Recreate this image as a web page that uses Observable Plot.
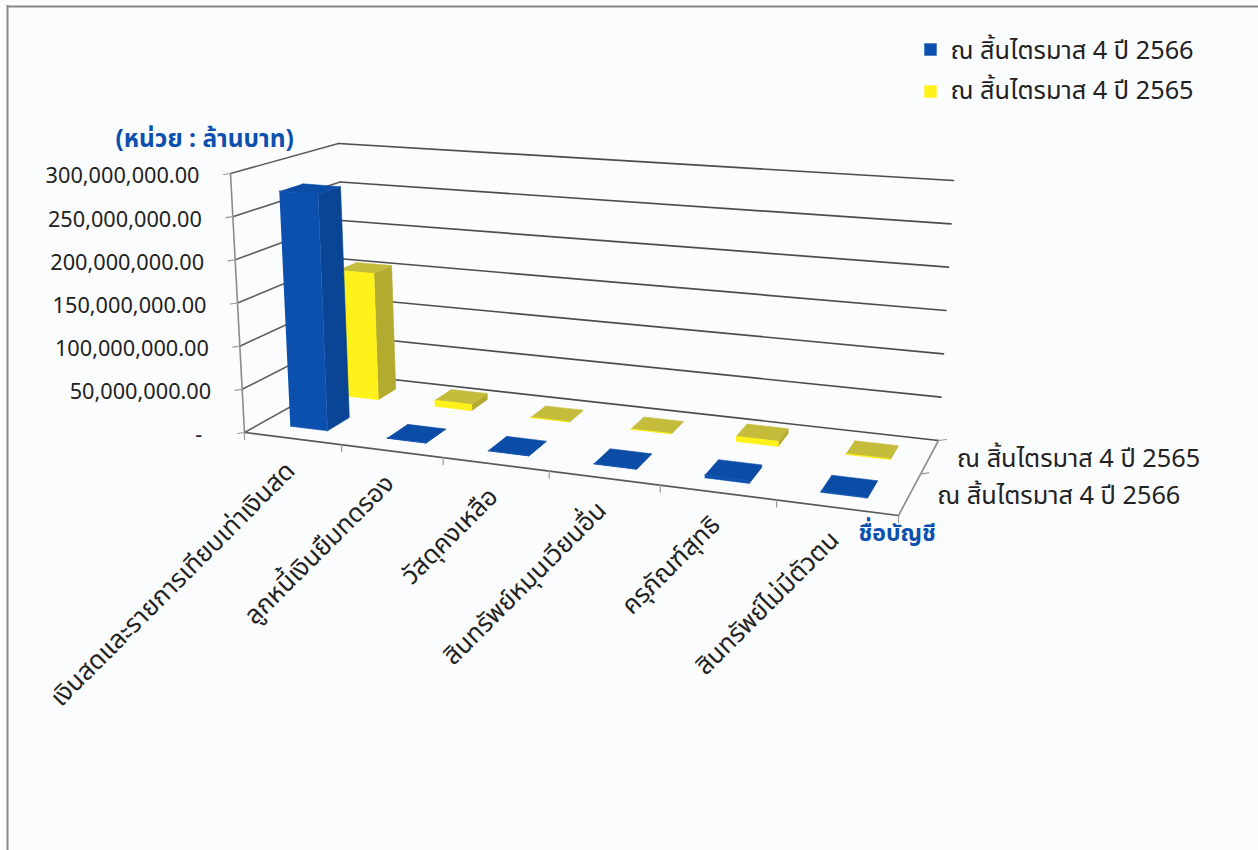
<!DOCTYPE html>
<html lang="th">
<head>
<meta charset="utf-8">
<style>
html,body{margin:0;padding:0;background:#fbfcfe;overflow:hidden}
svg{display:block;background:#fbfcfe}
</style>
<script src="https://cdn.jsdelivr.net/npm/d3@7"></script>
<script src="https://cdn.jsdelivr.net/npm/@observablehq/plot@0.6"></script>
</head>
<body>
<div id="chart"></div>
<script>
// ---- data ----
const categories = ["เงินสดและรายการเทียบเท่าเงินสด","ลูกหนี้เงินยืมทดรอง","วัสดุคงเหลือ","สินทรัพย์หมุนเวียนอื่น","ครุภัณฑ์สุทธิ","สินทรัพย์ไม่มีตัวตน"];
const seriesNames = ["ณ สิ้นไตรมาส 4 ปี 2566","ณ สิ้นไตรมาส 4 ปี 2565"];
const values2566 = [276000000,300000,300000,500000,3000000,1000000];
const values2565 = [156000000,7500000,300000,500000,6000000,800000];
const valueTicks = [0,50000000,100000000,150000000,200000000,250000000,300000000];
const tickLabels = ["-\u00a0\u00a0","50,000,000.00","100,000,000.00","150,000,000.00","200,000,000.00","250,000,000.00","300,000,000.00"];

// ---- look of the picture ----
const font = "Tahoma,'Noto Sans Thai','Noto Sans','DejaVu Sans',sans-serif";
const titleBlue = "#0b50ae";
const faces = [
  {front:"#0b50ae", side:"#0a4595", top:"#0b4ca6"},
  {front:"#fff21a", side:"#b3aa30", top:"#c6bc3c"}
];
const camera = { // corners of the box on the page, keyed front/back, left/right, bottom/top
  flb:[244,432], frb:[898,515], blb:[348,374], brb:[938,440],
  flt:[230,173], frt:[915,228], blt:[338,143], brt:[953,180],
  perspectiveX:1.146, perspectiveD:0.8
};

// ---- scales: category, series depth and value, each onto 0..1 of the box ----
const catScale = Plot.scale({x:{type:"band",domain:categories,range:[0,1],padding:0,round:false}});
const depthScale = Plot.scale({x:{type:"band",domain:seriesNames,range:[0,1],padding:0,round:false}});
const valueScale = Plot.scale({y:{type:"linear",domain:[0,300000000],range:[0,1]}});

function project(u,d,w){
  const k=camera.perspectiveX, m=camera.perspectiveD;
  const s = u<=0?0: u/(u+k*(1-u));
  const t = d<=0?0: d/(d+m*(1-d));
  const mix=(a,b,f)=>[a[0]+(b[0]-a[0])*f,a[1]+(b[1]-a[1])*f];
  const c=camera;
  const bottom=mix(mix(c.flb,c.frb,s),mix(c.blb,c.brb,s),t);
  const top=mix(mix(c.flt,c.frt,s),mix(c.blt,c.brt,s),t);
  return mix(bottom,top,w);
}
const polyRows=(id,pts)=>pts.map(p=>({id,x:p[0],y:p[1]}));

function barFaces(values,si){
  const rows={front:[],side:[],top:[]};
  const bwC=catScale.bandwidth, bwD=depthScale.bandwidth;
  const d0=depthScale.apply(seriesNames[si]);
  const d1=d0+.28*bwD, d2=d0+.68*bwD;
  categories.forEach((cat,i)=>{
    const c0=catScale.apply(cat);
    const u1=c0+.30*bwC, u2=c0+.69*bwC, w=valueScale.apply(values[i]);
    rows.front.push(...polyRows(i,[project(u1,d1,0),project(u2,d1,0),project(u2,d1,w),project(u1,d1,w)]));
    rows.side.push(...polyRows(i,[project(u2,d1,0),project(u2,d2,0),project(u2,d2,w),project(u2,d1,w)]));
    rows.top.push(...polyRows(i,[project(u1,d1,w),project(u2,d1,w),project(u2,d2,w),project(u1,d2,w)]));
  });
  return rows;
}
const barMarks=(values,si)=>{
  const r=barFaces(values,si), f=faces[si];
  return ["side","top","front"].map(n=>Plot.line(r[n],{x:"x",y:"y",z:"id",fill:f[n],stroke:f[n],strokeWidth:.6}));
};

// walls, floor and ticks
const gridRows=[], wallRows=[], tickRows=[], yLabelRows=[];
valueTicks.forEach((v,i)=>{
  const w=valueScale.apply(v);
  const a=project(0,0,w), b=project(0,1,w), c=project(1,1,w);
  wallRows.push(...polyRows(i,[a,b]));
  gridRows.push(...polyRows(i,[b,c]));
  tickRows.push(...polyRows("v"+i,[[a[0]-7,a[1]+1],a]));
  yLabelRows.push({x:a[0]-31,y:a[1]+3,label:tickLabels[i]});
});
const bw=catScale.bandwidth;
const catLabelRows=categories.map((cat,i)=>{
  const p=project(catScale.apply(cat)+bw/2,0,0);
  return {x:p[0]-2,y:p[1]+28,label:cat};
});
[0,1,2,3,4,5,6].forEach(i=>{
  const p=project(i*bw,0,0);
  tickRows.push(...polyRows("c"+i,[p,[p[0],p[1]+7]]));
});
[0,.5,1].forEach((d,i)=>{
  const p=project(1,d,0);
  if(d===0) return;
  tickRows.push(...polyRows("d"+i,[p,[p[0]+8,p[1]-1]]));
});
const depthLabelRows=seriesNames.map(n=>{
  const p=project(1,depthScale.apply(n)+depthScale.bandwidth/2,0);
  return {x:p[0]+27,y:p[1]+2.5,label:n};
});
const edgeFront=polyRows("f",[project(0,0,0),project(1,0,0)]);
const edgeLeftAxis=polyRows("l",[project(0,0,1),project(0,0,0)]);
const edgeRight=polyRows("r",[project(1,0,0),project(1,1,0)]);

const legendRows=[
  {x:930,y:49,c:faces[0].front,label:seriesNames[0]},
  {x:930,y:91,c:faces[1].front,label:seriesNames[1]}
];
const frameTop=[{y:6}], frameLeft=[{x:7}];

const chart=Plot.plot({
  width:1258,height:850,margin:0,
  x:{type:"identity",axis:null},
  y:{type:"identity",axis:null},
  style:{background:"#fbfcfe",fontFamily:font},
  marks:[
    Plot.ruleY(frameTop,{y:"y",x1:7,x2:1258,stroke:"#8a8a8a",strokeWidth:2}),
    Plot.ruleX(frameLeft,{x:"x",y1:5,y2:850,stroke:"#8a8a8a",strokeWidth:2}),
    Plot.line(wallRows,{x:"x",y:"y",z:"id",stroke:"#5e5e5e",strokeWidth:1.6}),
    Plot.line(gridRows,{x:"x",y:"y",z:"id",stroke:"#4d4d4d",strokeWidth:1.7}),
    Plot.line(edgeLeftAxis,{x:"x",y:"y",z:"id",stroke:"#8c8c8c",strokeWidth:1.6}),
    Plot.line(edgeFront,{x:"x",y:"y",z:"id",stroke:"#5a5a5a",strokeWidth:1.7}),
    Plot.line(edgeRight,{x:"x",y:"y",z:"id",stroke:"#8c8c8c",strokeWidth:1.6}),
    Plot.line(tickRows,{x:"x",y:"y",z:"id",stroke:"#9a9a9a",strokeWidth:1.2}),
    ...barMarks(values2565,1),
    ...barMarks(values2566,0),
    Plot.text(yLabelRows,{x:"x",y:"y",text:"label",textAnchor:"end",fontSize:21.7,fill:"#222"}),
    Plot.text(catLabelRows,{x:"x",y:"y",text:"label",textAnchor:"end",rotate:-45,fontSize:25.5,fill:"#222"}),
    Plot.text(depthLabelRows,{x:"x",y:"y",text:"label",textAnchor:"start",fontSize:25.3,fill:"#222"}),
    Plot.dot(legendRows,{x:"x",y:"y",symbol:"square",r:7,fill:"c"}),
    Plot.text(legendRows,{x:d=>d.x+20,y:d=>d.y===49?50:90,text:"label",textAnchor:"start",fontSize:25.3,fill:"#222"}),
    Plot.text(["(หน่วย : ล้านบาท)"],{x:()=>115,y:()=>139,text:d=>d,textAnchor:"start",fontSize:24.5,fontWeight:"bold",fill:titleBlue}),
    Plot.text(["ชื่อบัญชี"],{x:()=>858,y:()=>533,text:d=>d,textAnchor:"start",fontSize:23,fontWeight:"bold",fill:titleBlue})
  ]
});
document.getElementById("chart").append(chart);
</script>
</body>
</html>
